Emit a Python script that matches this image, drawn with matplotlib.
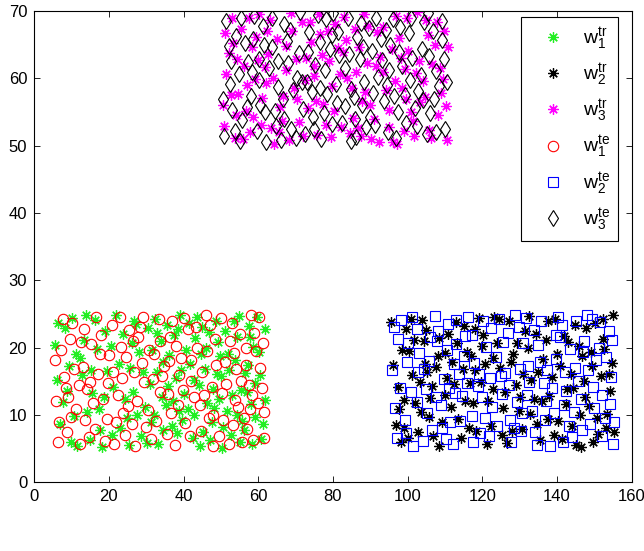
import matplotlib
matplotlib.use("Agg")
import matplotlib.pyplot as plt

plt.rcParams['font.family'] = ['Liberation Sans', 'DejaVu Sans']
plt.rcParams['mathtext.fontset'] = 'custom'
plt.rcParams['mathtext.rm'] = 'Liberation Sans'
plt.rcParams['mathtext.it'] = 'Liberation Sans'

# ---- data ----
w1_tr = [(6.1,15.2),(8.3,22.9),(10.7,9.8),(12.2,18.4),(14.9,6.3),(16.4,24.1),(18.8,12.7),(20.5,20.2),(23.1,8.1),(25.6,16.9),
(27.3,23.5),(29.8,11.2),(31.6,19.7),(33.2,5.6),(35.9,14.3),(37.4,21.8),(39.7,9.2),(41.8,17.6),(43.5,24.6),(45.2,7.4),
(47.9,13.9),(49.3,20.8),(51.6,10.5),(53.8,18.1),(55.1,5.9),(57.6,23.2),(59.2,14.8),(61.4,8.7),(60.3,19.3),(58.1,11.6),
(56.4,16.2),(54.2,21.5),(52.7,7.0),(50.1,15.7),(48.6,24.0),(46.3,11.8),(44.7,19.1),(42.4,6.6),(40.2,13.1),(38.5,22.7),
(36.8,8.4),(34.6,17.9),(32.4,24.3),(30.9,14.6),(28.5,6.9),(26.2,20.6),(24.3,12.3),(22.0,24.8),(19.5,16.5),(17.7,7.7),
(15.6,13.3),(13.4,21.1),(11.5,5.4),(9.4,17.2),(7.6,11.9),(5.5,20.4),(6.9,8.6),(8.9,13.6),(10.2,24.4),(12.9,15.9),
(14.2,10.4),(16.9,19.8),(18.3,5.2),(21.2,14.1),(22.8,17.5),(24.9,9.5),(26.8,23.9),(29.1,16.3),(31.2,8.9),(33.9,20.9),
(35.3,11.4),(37.9,15.5),(39.1,24.9),(41.1,10.8),(43.0,21.4),(45.8,16.8),(47.1,6.2),(49.8,18.7),(51.2,22.4),(53.1,12.9),
(55.7,9.1),(57.2,17.4),(59.8,24.5),(61.9,12.2),(60.8,6.4),(58.7,20.1),(56.9,13.4),(54.9,24.7),(52.3,16.6),(50.6,8.2),
(48.2,11.0),(46.9,22.3),(44.1,14.4),(42.9,9.9),(40.6,19.6),(38.2,7.3),(36.2,18.9),(34.1,12.6),(32.9,22.2),(30.3,5.8),
(6.5,23.6),(9.8,6.0),(11.1,19.0),(13.9,24.9),(15.1,16.7),(17.4,10.9),(19.0,22.4),(20.9,7.0),(23.7,22.0),(25.3,5.5),
(26.5,13.4),(28.0,19.3),(30.6,22.9),(32.1,10.0),(34.4,7.7),(35.7,23.3),(37.1,12.0),(39.4,16.6),(41.5,23.7),(42.7,15.2),
(44.4,5.4),(46.0,20.0),(47.5,9.0),(48.9,16.0),(50.4,5.1),(51.9,19.1),(53.5,23.9),(55.3,13.7),(56.2,7.8),(57.9,21.6),
(59.1,9.7),(60.6,15.9),(61.7,22.8),(58.4,5.6),(54.4,10.0),(49.6,12.4),(44.9,23.1),(38.9,10.6),(33.0,16.4),(27.6,9.9)]

w2_tr = [(95.6,23.8),(97.3,14.2),(98.9,8.1),(100.4,19.5),(102.1,11.7),(103.8,24.1),(105.2,16.3),(106.9,6.9),(108.5,21.4),(110.1,13.0),
(111.8,17.9),(113.4,9.4),(115.0,23.2),(116.7,14.8),(118.3,7.6),(119.9,20.3),(121.6,12.1),(123.2,24.6),(124.8,16.9),(126.5,5.8),
(128.1,19.0),(129.7,10.5),(131.4,22.4),(133.0,15.2),(134.6,8.7),(136.3,18.3),(137.9,12.8),(139.5,24.2),(141.2,6.4),(142.8,20.8),
(144.4,14.0),(146.1,9.9),(147.7,22.9),(149.3,17.2),(151.0,7.2),(152.6,19.8),(154.2,13.5),(155.1,24.9),(153.4,10.1),(151.8,15.8),
(150.1,23.6),(148.5,11.3),(146.8,18.7),(145.2,5.5),(143.6,16.1),(141.9,21.7),(140.3,9.1),(138.7,15.6),(137.0,21.1),(135.4,6.2),
(133.8,12.4),(132.1,19.9),(130.5,7.9),(128.9,14.4),(127.2,23.9),(125.6,11.0),(124.0,20.6),(122.3,8.3),(120.7,17.6),(119.1,24.4),
(117.4,11.8),(115.8,19.3),(114.2,6.6),(112.5,14.6),(110.9,22.0),(109.3,8.9),(107.6,17.1),(106.0,12.5),(104.4,20.9),(102.7,7.4),
(101.1,15.9),(99.5,22.7),(97.8,10.8),(96.2,17.4),(98.2,5.9),(100.9,24.3),(103.3,14.9),(105.7,9.7),(108.0,18.8),(110.5,15.5),
(112.9,23.8),(115.4,12.0),(117.9,16.6),(120.3,21.9),(122.8,13.8),(125.2,7.0),(127.7,17.8),(130.1,12.7),(132.6,24.7),(135.0,16.4),
(137.5,9.4),(139.9,19.0),(142.4,11.6),(144.8,23.4),(147.3,15.0),(149.7,6.0),(152.2,21.3),(154.6,17.7),(153.0,8.0),(99.0,12.2),
(96.8,8.5),(98.6,19.7),(100.1,6.6),(101.8,21.1),(103.5,10.4),(105.0,22.6),(106.6,14.3),(108.3,5.4),(109.9,19.2),(111.5,11.1),
(113.1,20.7),(114.8,16.8),(116.4,8.0),(118.0,22.8),(119.6,14.9),(121.3,5.6),(122.9,18.4),(124.5,24.2),(126.1,13.4),(127.9,7.6),
(129.4,20.6),(131.0,16.0),(132.8,10.1),(134.3,22.0),(135.9,12.0),(137.6,24.0),(139.2,7.0),(140.8,17.3),(142.6,13.9),(144.1,8.3),
(145.8,20.3),(147.5,12.6),(149.0,19.4),(150.6,9.6),(152.4,24.3),(154.0,16.0),(155.3,7.4),(146.5,5.2),(117.0,18.8),(104.6,17.6)]

w3_tr = [(50.5,56.1),(52.1,63.8),(53.7,51.2),(55.3,67.4),(57.0,59.0),(58.6,54.3),(60.2,69.5),(61.8,61.7),(63.5,52.6),(65.1,65.9),
(66.7,57.4),(68.3,50.8),(70.0,62.9),(71.6,68.3),(73.2,55.6),(74.8,60.4),(76.5,66.6),(78.1,53.1),(79.7,58.8),(81.3,64.5),
(83.0,69.1),(84.6,51.9),(86.2,61.0),(87.8,56.7),(89.5,67.8),(91.1,53.9),(92.7,63.2),(94.3,58.2),(96.0,50.5),(97.6,66.0),
(99.2,61.4),(100.8,55.0),(102.5,69.8),(104.1,59.6),(105.7,52.3),(107.3,64.9),(108.9,57.8),(110.5,50.9),(109.7,67.1),(108.1,54.6),
(106.5,62.1),(104.9,68.6),(103.2,56.5),(101.6,51.5),(100.0,64.0),(98.4,58.5),(96.8,69.3),(95.1,55.3),(93.5,60.9),(91.9,66.9),
(90.3,51.0),(88.6,58.0),(87.0,64.7),(85.4,54.1),(83.8,60.0),(82.1,52.8),(80.5,68.0),(78.9,62.5),(77.3,56.2),(75.6,51.6),
(74.0,65.4),(72.4,59.7),(70.8,53.5),(69.1,67.0),(67.5,61.2),(65.9,55.8),(64.3,50.3),(62.6,63.6),(61.0,57.1),(59.4,66.2),
(57.8,52.0),(56.1,61.9),(54.5,57.7),(52.9,69.0),(51.3,60.6),(50.9,52.9),(53.3,65.2),(56.6,55.1),(59.9,62.7),(63.2,68.7),
(66.4,53.7),(69.7,58.6),(72.9,63.0),(76.2,69.6),(79.4,51.3),(82.7,63.9),(85.9,67.3),(89.2,62.3),(92.4,50.6),(95.7,64.3),
(98.9,52.1),(102.2,60.8),(105.4,66.4),(108.7,61.6),(110.2,55.9),(99.6,57.0),(87.4,51.4),(75.0,61.8),(62.0,59.3),(54.0,54.6),
(51.0,66.8),(52.6,57.5),(54.3,62.9),(55.9,51.0),(57.5,68.9),(59.1,59.9),(60.8,53.0),(62.4,67.1),(64.0,60.1),(65.6,52.0),
(67.3,64.8),(68.9,69.7),(70.5,57.0),(72.1,51.4),(73.8,68.4),(75.4,56.6),(77.0,63.4),(78.6,67.0),(80.3,55.2),(81.9,60.7),
(83.5,65.7),(85.1,58.6),(86.8,52.6),(88.4,69.5),(90.0,56.1),(91.6,61.9),(93.3,67.6),(94.9,52.8),(96.5,59.6),(98.1,63.0),
(99.8,68.9),(101.4,53.7),(103.0,62.6),(104.6,57.2),(106.3,51.1),(107.9,68.3),(109.5,59.9),(110.8,64.6),(97.1,50.2),(58.2,64.7)]

w1_te = [(5.9,12.1),(7.1,19.6),(8.8,7.4),(10.1,23.7),(11.9,14.5),(13.6,9.3),(15.3,20.5),(17.1,16.1),(19.1,6.1),(20.8,23.3),
(22.4,12.9),(24.6,18.6),(26.1,8.6),(27.9,21.6),(29.5,14.9),(31.4,6.4),(33.3,24.2),(34.9,17.3),(36.6,10.2),(38.1,20.3),
(39.9,13.7),(41.6,6.8),(43.3,23.0),(44.9,16.4),(46.7,9.6),(48.4,21.3),(50.2,13.2),(52.1,5.7),(53.6,19.2),(55.4,15.1),
(57.1,7.9),(58.8,22.1),(60.4,17.0),(61.6,10.4),(60.1,24.6),(58.3,13.0),(56.6,20.0),(54.6,11.1),(52.9,23.6),(51.0,17.8),
(49.4,6.9),(47.6,14.2),(45.9,24.8),(44.3,11.5),(42.1,18.2),(40.4,8.8),(38.7,15.9),(37.0,24.0),(35.5,7.1),(33.7,13.4),
(32.0,19.0),(30.5,10.7),(28.8,17.7),(27.0,5.3),(25.3,22.6),(23.6,15.4),(21.9,9.0),(20.1,18.9),(18.4,12.4),(16.6,24.5),
(14.7,6.7),(13.0,17.1),(11.2,10.9),(9.6,21.2),(7.9,15.6),(6.3,5.9),(5.6,18.1),(7.7,24.2),(9.9,9.7),(12.6,20.8),
(14.1,13.8),(16.2,7.9),(17.9,21.9),(19.8,14.7),(21.5,5.6),(23.2,20.1),(25.0,11.3),(26.7,16.3),(28.3,23.1),(30.0,8.2),
(31.9,15.3),(33.8,21.0),(35.9,13.1),(37.6,5.5),(39.4,18.4),(41.2,22.8),(42.8,12.6),(44.6,7.6),(46.3,19.5),(48.0,10.0),
(49.9,24.4),(51.5,14.6),(53.3,8.5),(55.0,22.0),(56.8,17.4),(58.5,6.3),(60.9,14.0),(61.2,20.7),(57.9,10.9),(54.0,16.8),
(6.7,9.0),(8.4,14.0),(10.6,16.8),(12.3,5.6),(13.3,22.7),(15.8,11.8),(17.6,19.0),(19.4,9.4),(21.1,16.3),(22.9,24.5),
(24.2,7.0),(26.4,20.9),(27.5,12.0),(29.2,24.6),(30.8,19.6),(32.6,9.1),(34.2,15.7),(36.3,21.5),(38.4,11.5),(40.1,24.4),
(41.9,15.0),(43.7,19.9),(45.4,13.0),(47.2,23.4),(48.7,17.4),(50.6,9.3),(52.4,21.0),(53.9,12.2),(55.7,6.0),(57.4,14.5),
(59.3,19.5),(61.5,6.5),(60.0,11.8),(58.0,24.8),(56.1,9.5),(47.9,5.3),(36.0,18.0),(23.8,10.3),(15.0,14.9),(9.2,12.6)]

w2_te = [(95.9,16.6),(97.5,21.2),(99.2,9.3),(100.8,13.4),(102.4,22.8),(104.1,6.1),(105.7,18.0),(107.3,24.7),(108.9,11.4),(110.6,19.6),
(112.2,5.7),(113.8,16.0),(115.4,21.7),(117.1,9.8),(118.7,14.3),(120.3,24.0),(121.9,6.8),(123.6,18.6),(125.2,13.1),(126.8,22.2),
(128.4,8.0),(130.1,16.8),(131.7,24.4),(133.3,10.6),(134.9,20.4),(136.6,14.7),(138.2,5.4),(139.8,18.3),(141.4,23.3),(143.1,8.4),
(144.7,17.0),(146.3,12.3),(147.9,24.8),(149.6,14.1),(151.2,20.0),(152.8,9.6),(154.4,15.6),(155.0,5.6),(153.8,22.4),(152.1,12.9),
(150.5,18.1),(148.9,8.7),(147.2,21.0),(145.6,15.1),(144.0,6.7),(142.3,13.6),(140.7,21.5),(139.1,10.3),(137.4,16.7),(135.8,23.9),
(134.2,7.4),(132.5,14.9),(130.9,20.7),(129.3,11.9),(127.6,5.9),(126.0,16.2),(124.4,24.3),(122.7,11.2),(121.1,20.1),(119.5,7.3),
(117.8,17.7),(116.2,24.5),(114.6,12.8),(112.9,20.5),(111.3,9.0),(109.7,15.3),(108.0,22.5),(106.4,7.8),(104.8,13.9),(103.1,19.2),
(101.5,5.3),(99.9,17.8),(98.2,24.1),(96.6,11.0),(97.1,6.5),(100.2,20.6),(102.9,16.4),(105.3,10.2),(107.9,20.9),(110.2,6.4),
(112.6,13.2),(115.1,18.8),(117.5,6.0),(119.9,12.6),(122.4,22.9),(124.9,15.7),(127.3,9.2),(129.8,23.0),(132.2,17.3),(134.7,5.5),
(137.1,12.1),(139.6,21.9),(142.0,16.3),(144.5,10.4),(146.9,19.4),(149.4,24.2),(151.9,6.9),(154.3,11.6),(141.6,6.0),(113.0,24.1),
(96.3,23.0),(98.0,14.0),(99.6,7.3),(101.2,24.6),(102.6,11.9),(104.4,16.8),(106.1,21.6),(107.7,12.6),(109.2,8.1),(110.9,23.5),
(112.5,17.5),(114.0,9.1),(115.9,14.7),(117.2,21.9),(119.0,16.1),(120.7,9.5),(122.1,15.4),(123.9,8.4),(125.6,20.8),(127.0,14.5),
(128.8,24.8),(130.4,7.6),(132.0,13.0),(133.7,22.6),(135.3,17.8),(136.9,9.2),(138.6,14.0),(140.2,24.5),(141.9,11.4),(143.5,19.8),
(145.1,24.0),(146.7,7.7),(148.3,16.6),(150.0,11.0),(151.6,23.8),(153.2,18.6),(154.8,21.1),(155.2,8.9),(130.6,10.2),(111.0,14.0)]

w3_te = [(50.8,51.4),(52.4,59.2),(54.0,66.3),(55.7,53.8),(57.3,62.4),(58.9,69.2),(60.5,56.0),(62.2,50.6),(63.8,64.6),(65.4,58.7),
(67.0,68.1),(68.7,52.5),(70.3,60.1),(71.9,55.4),(73.5,66.9),(75.2,62.0),(76.8,51.0),(78.4,57.6),(80.0,69.7),(81.7,63.4),
(83.3,55.9),(84.9,50.7),(86.5,66.1),(88.2,59.5),(89.8,54.2),(91.4,69.0),(93.0,62.7),(94.7,52.0),(96.3,57.4),(97.9,67.6),
(99.5,53.3),(101.2,63.0),(102.8,58.1),(104.4,68.4),(106.0,54.9),(107.7,61.1),(109.3,65.7),(110.0,52.4),(108.4,58.8),(106.8,67.0),
(105.1,51.7),(103.5,60.5),(101.9,55.6),(100.3,66.7),(98.6,61.8),(97.0,51.1),(95.4,65.0),(93.8,56.6),(92.1,60.2),(90.5,64.1),
(88.9,52.7),(87.3,62.9),(85.6,57.2),(84.0,68.9),(82.4,53.4),(80.8,59.1),(79.1,64.3),(77.5,54.8),(75.9,69.4),(74.3,57.9),
(72.6,51.8),(71.0,63.7),(69.4,58.3),(67.8,65.5),(66.1,50.9),(64.5,55.1),(62.9,61.5),(61.3,67.7),(59.6,52.2),(58.0,57.3),
(56.4,65.3),(54.8,60.7),(53.1,55.3),(51.5,68.5),(52.7,62.6),(55.0,50.7),(58.3,61.0),(61.6,64.9),(64.8,52.9),(68.1,62.3),
(71.3,69.9),(74.6,54.3),(77.8,61.3),(81.1,56.4),(84.3,63.6),(87.6,68.2),(90.8,57.8),(94.1,67.2),(97.3,55.0),(100.6,59.8),
(103.8,64.4),(107.1,57.0),(109.6,62.9),(95.0,61.2),(86.0,54.0),(79.8,66.5),(66.6,56.9),(60.2,59.7),(105.5,69.7),(73.0,59.4),
(50.6,57.0),(52.2,64.8),(53.8,52.1),(55.4,68.9),(57.1,55.8),(58.7,65.9),(60.3,62.8),(61.9,55.0),(63.6,68.9),(65.2,62.5),
(66.8,53.9),(68.4,67.2),(70.1,51.2),(71.7,59.4),(73.3,63.9),(74.9,52.5),(76.6,65.4),(78.2,68.8),(79.8,53.2),(81.4,66.9),
(83.1,61.6),(84.7,58.4),(86.3,51.3),(87.9,56.0),(89.6,67.5),(91.2,53.0),(92.8,65.9),(94.4,59.0),(96.1,68.8),(97.7,63.9),
(99.3,57.5),(101.0,69.0),(102.6,52.9),(104.2,56.8),(105.8,63.3),(107.5,52.0),(109.1,68.5),(110.6,59.4),(88.0,64.7),(76.4,58.6)]

labels = [r'$\mathrm{w}_1^{\mathrm{tr}}$', r'$\mathrm{w}_2^{\mathrm{tr}}$', r'$\mathrm{w}_3^{\mathrm{tr}}$',
          r'$\mathrm{w}_1^{\mathrm{te}}$', r'$\mathrm{w}_2^{\mathrm{te}}$', r'$\mathrm{w}_3^{\mathrm{te}}$']
xticks = [0, 20, 40, 60, 80, 100, 120, 140, 160]
yticks = [0, 10, 20, 30, 40, 50, 60, 70]

fig = plt.figure(figsize=(6.44, 5.51), dpi=100)
ax = fig.add_axes([0.053, 0.125, 0.928, 0.855])

star = (8, 2, 0)
styles = [
    (w1_tr, dict(marker=star, color='#22ee22', ms=7.5, mew=0.9)),
    (w2_tr, dict(marker=star, color='black', ms=7.5, mew=0.9)),
    (w3_tr, dict(marker=star, color='#ff00ff', ms=7.5, mew=0.9)),
    (w1_te, dict(marker='o', mfc='none', mec='red', ms=7.5, mew=0.8)),
    (w2_te, dict(marker='s', mfc='none', mec='blue', ms=6.5, mew=0.8)),
    (w3_te, dict(marker='d', mfc='none', mec='black', ms=8.5, mew=0.8)),
]
for (pts, st), lab in zip(styles, labels):
    xs = [p[0] for p in pts]
    ys = [p[1] for p in pts]
    ax.plot(xs, ys, linestyle='none', label=lab, **st)

ax.set_xlim(0, 160)
ax.set_ylim(0, 70)
ax.set_xticks(xticks)
ax.set_yticks(yticks)
ax.tick_params(direction='in', top=True, right=True, labelsize=12, length=4, width=0.6)
ax.tick_params(axis='x', pad=5)
ax.tick_params(axis='y', pad=5)
for s in ax.spines.values():
    s.set_linewidth(0.8)

leg = ax.legend(loc='upper right', bbox_to_anchor=(0.9766, 0.987), fontsize=14,
                frameon=True, fancybox=False, edgecolor='black', framealpha=1,
                borderaxespad=0.0, labelspacing=0.5, handlelength=2.5,
                handletextpad=0.3, borderpad=0.4)
leg.get_frame().set_linewidth(0.8)

fig.savefig('out.png', dpi=100)
